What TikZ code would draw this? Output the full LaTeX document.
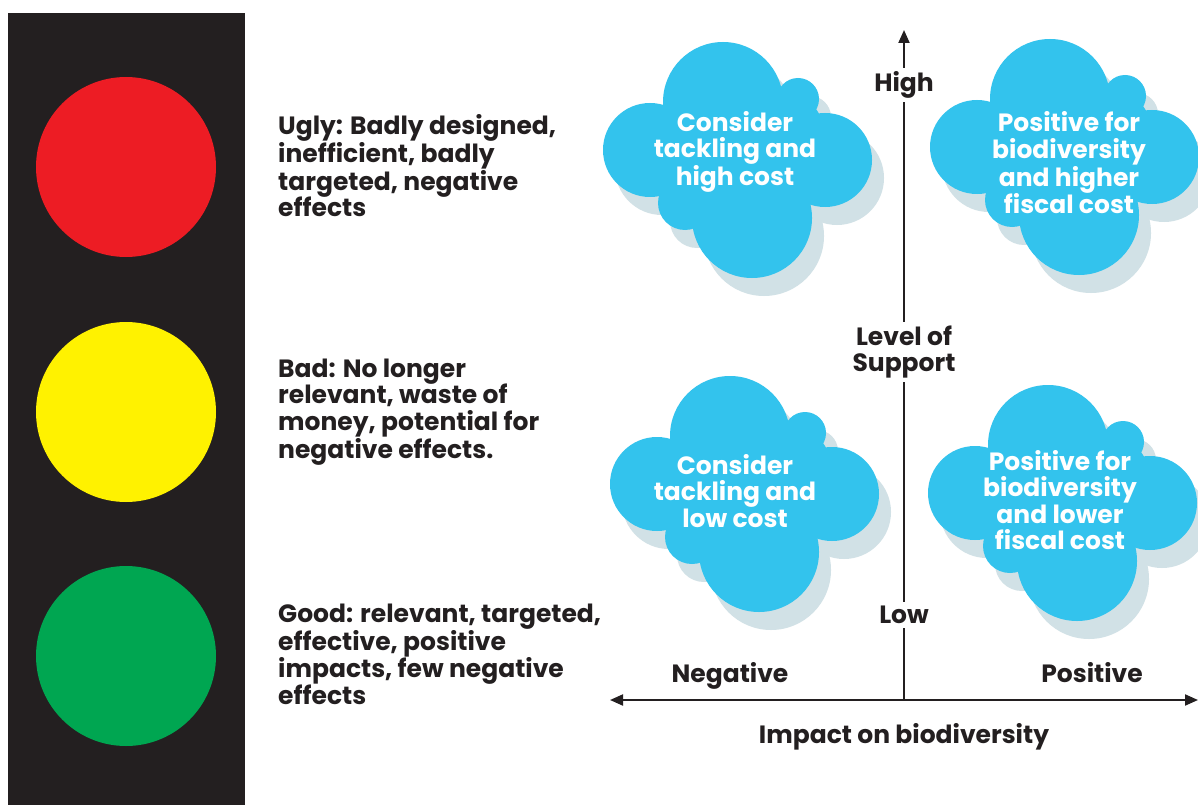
\documentclass[tikz,border=0pt]{standalone}
\usepackage{fontspec}
\setmainfont{Poppins}
\usetikzlibrary{arrows.meta}
\definecolor{ink}{HTML}{231F20}
\definecolor{tlred}{HTML}{ED1C24}
\definecolor{tlyellow}{HTML}{FFF200}
\definecolor{tlgreen}{HTML}{00A651}
\definecolor{cloudblue}{HTML}{33C3ED}
\definecolor{cloudshadow}{HTML}{D1E1E6}
\newcommand\cloudblob[3]{%
  \foreach \dx/\dy/\rr in {-15/58/60, 60/61/21, 50/30/35, 87/0/47, -88/10/47, 14/-58/60, -53/-43/27, 0/0/70}
    {\fill[#3] ({#1+\dx},{#2+\dy}) circle (\rr);}%
}
\begin{document}
\begin{tikzpicture}[x=1pt,y=1pt,
  lbl/.style={font=\fontsize{25}{26.5}\selectfont\bfseries, text=ink, inner sep=0pt, align=left},
  cloudtext/.style={font=\fontsize{25}{26.5}\selectfont\bfseries, text=white, inner sep=0pt, align=center},
  axlbl/.style={font=\fontsize{25}{26.5}\selectfont\bfseries, text=ink, inner sep=4pt, align=center},
  axis/.style={draw=ink, line width=2pt},
  tip/.style={-{Triangle[length=13pt,width=11pt]}}]
\useasboundingbox (0,0) rectangle (1198,-805);
\fill[white] (0,0) rectangle (1198,-805);
% traffic light
\fill[ink] (8,-13) rectangle (245,-805);
\fill[tlred] (126,-167) circle (90);
\fill[tlyellow] (126,-412) circle (90);
\fill[tlgreen] (126,-656) circle (90);
% left texts
\node[lbl, anchor=west] (ugly) at (278,-166) {Ugly: Badly designed,\\inefficient, badly\\targeted, negative\\effects};
\node[lbl, anchor=west] (bad) at (278,-412) {Bad: No longer\\relevant, waste of\\money, potential for\\negative effects.};
\node[lbl, anchor=west] (good) at (278,-654) {Good: relevant, targeted,\\effective, positive\\impacts, few negative\\effects};
% clouds
\cloudblob{750}{-178}{cloudshadow}
\cloudblob{738}{-160}{cloudblue}
\cloudblob{1077}{-175}{cloudshadow}
\cloudblob{1065}{-157}{cloudblue}
\cloudblob{757}{-512}{cloudshadow}
\cloudblob{745}{-494}{cloudblue}
\cloudblob{1075}{-521}{cloudshadow}
\cloudblob{1063}{-503}{cloudblue}
\node[cloudtext] (tl) at (735,-152) {Consider\\tackling and\\high cost};
\node[cloudtext] (tr) at (1069,-163) {Positive for\\biodiversity\\and higher\\fiscal cost};
\node[cloudtext] (bl) at (735,-491) {Consider\\tackling and\\low cost};
\node[cloudtext] (br) at (1060,-500) {Positive for\\biodiversity\\and lower\\fiscal cost};
% axes
\coordinate (ybot) at (904,-700);
\coordinate (ytop) at (904,-30);
\coordinate (xleft) at (610,-700);
\coordinate (xright) at (1198,-700);
\draw[axis, tip] (ybot) -- (ytop);
\draw[axis, {Triangle[length=13pt,width=11pt]}-{Triangle[length=13pt,width=11pt]}] (xleft) -- (xright);
\node[axlbl, fill=white] (high) at (904,-85) {High};
\node[axlbl, fill=white] (level) at (904,-352) {Level of\\Support};
\node[axlbl, fill=white] (low) at (904,-615) {Low};
\node[axlbl] (neg) at (730,-676) {Negative};
\node[axlbl] (pos) at (1092,-673) {Positive};
\node[axlbl] (impact) at (904,-737) {Impact on biodiversity};
\end{tikzpicture}
\end{document}
